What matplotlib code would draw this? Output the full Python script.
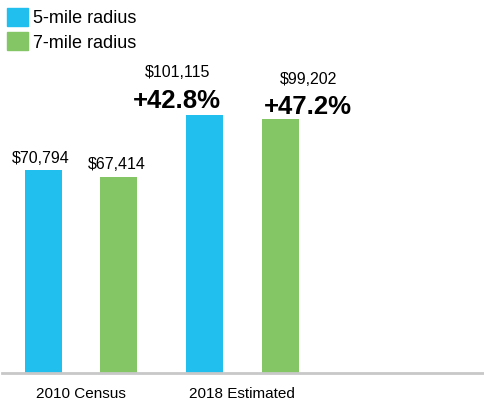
import matplotlib
matplotlib.use("Agg")
import matplotlib.pyplot as plt
from matplotlib.patches import Patch

categories = ["2010 Census", "2018 Estimated", ""]
radius_5 = [70794, 101115]
radius_7 = [67414, 99202]
growth_5 = [None, "+42.8%"]
growth_7 = [None, "+47.2%"]
series_names = ["5-mile radius", "7-mile radius"]

blue = "#21BFEE"
green = "#84C665"
font = ["Liberation Sans", "DejaVu Sans"]
base = -40000  # value axis doesn't start at zero in the original

fig = plt.figure(figsize=(4.84, 4.0), dpi=100)
ax = fig.add_axes([2 / 484, 27 / 400, 482 / 484, 373 / 400])

off = 0.235
w = 0.23
x = list(range(len(radius_5)))
ax.bar([i - off for i in x], [v - base for v in radius_5], bottom=base, width=w, color=blue)
ax.bar([i + off for i in x], [v - base for v in radius_7], bottom=base, width=w, color=green)

pt = 0.72  # px -> points at 100 dpi
for i in x:
    lift5 = 43 if growth_5[i] else 12
    lift7 = 39 if growth_7[i] else 12
    dx5 = -27 if growth_5[i] else -2
    dx7 = 28 if growth_7[i] else -2
    ax.annotate(f"${radius_5[i]:,}", (i - off, radius_5[i]), xytext=(dx5 * pt, lift5 * pt),
                textcoords="offset points", ha="center", va="center", fontsize=11.5, family=font)
    ax.annotate(f"${radius_7[i]:,}", (i + off, radius_7[i]), xytext=(dx7 * pt, lift7 * pt),
                textcoords="offset points", ha="center", va="center", fontsize=11.5, family=font)
    if growth_5[i]:
        ax.annotate(growth_5[i], (i - off, radius_5[i]), xytext=(-27 * pt, 14 * pt),
                    textcoords="offset points", ha="center", va="center", fontsize=18.5,
                    fontweight="bold", family=font)
    if growth_7[i]:
        ax.annotate(growth_7[i], (i + off, radius_7[i]), xytext=(28 * pt, 12 * pt),
                    textcoords="offset points", ha="center", va="center", fontsize=18.5,
                    fontweight="bold", family=font)

ax.set_xlim(-0.49, 2.5)
ax.set_ylim(base, 164050)
ax.set_xticks(range(len(categories)))
ax.set_xticklabels(categories, fontsize=11, family=font)
ax.tick_params(axis="x", length=0, pad=10)
ax.set_yticks([])
for s in ["top", "right", "left"]:
    ax.spines[s].set_visible(False)
ax.spines["bottom"].set_color("#c8c8c8")
ax.spines["bottom"].set_linewidth(2)

handles = [Patch(color=blue), Patch(color=green)]
fig.legend(handles, series_names, loc="upper left", bbox_to_anchor=(7 / 484, 1 - 8 / 400),
           frameon=False, handlelength=1.15, handleheight=1.15, handletextpad=0.3,
           labelspacing=0.3, borderpad=0.0, borderaxespad=0.0,
           prop={"family": font, "size": 13})

fig.savefig("out.png", dpi=100)
